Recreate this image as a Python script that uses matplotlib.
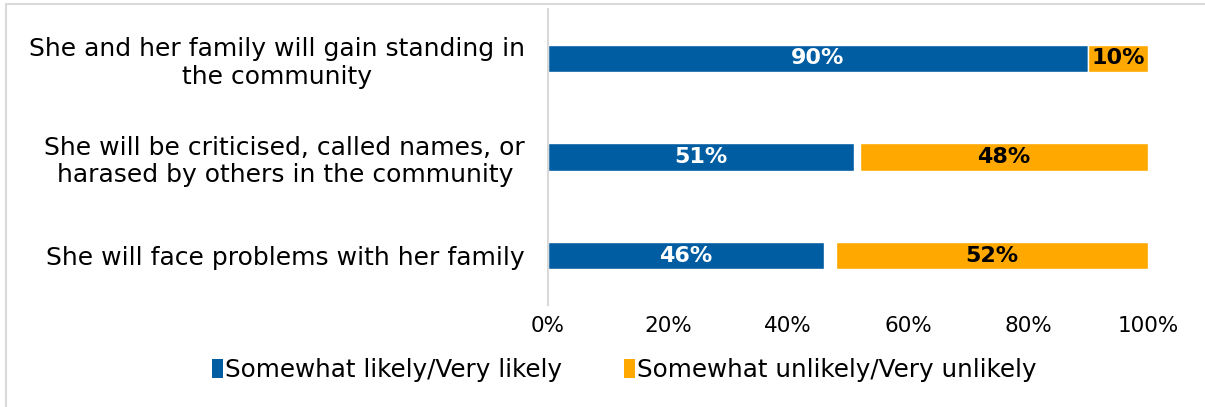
import matplotlib
matplotlib.use("Agg")
import matplotlib.pyplot as plt
from matplotlib.patches import Rectangle, Patch
import numpy as np

categories = [
    "She and her family will gain standing in\nthe community",
    "She will be criticised, called names, or\nharased by others in the community",
    "She will face problems with her family",
]
likely = [90, 51, 46]
unlikely = [10, 48, 52]
series_names = ["Somewhat likely/Very likely", "Somewhat unlikely/Very unlikely"]
xticks = [0, 20, 40, 60, 80, 100]

BLUE = "#005DA2"
ORANGE = "#FFA900"

plt.rcParams["font.family"] = ["DejaVu Sans"]

fig = plt.figure(figsize=(12.05, 4.07), dpi=100)
ax = fig.add_axes([548 / 1205, 1 - 305 / 407, 600 / 1205, 296 / 407])

y = np.arange(len(categories))
likely = np.array(likely)
unlikely = np.array(unlikely)
# remaining share (no answer) sits between the two segments
gap = 100 - likely - unlikely

h = 0.28
ax.barh(y, likely, height=h, color=BLUE, edgecolor="white", linewidth=1)
ax.barh(y, unlikely, left=likely + gap, height=h, color=ORANGE,
        edgecolor="white", linewidth=1)

for i in range(len(categories)):
    ax.text(likely[i] / 2, y[i], f"{likely[i]}%", ha="center", va="center",
            color="white", fontsize=16, fontweight="bold")
    ax.text(likely[i] + gap[i] + unlikely[i] / 2, y[i], f"{unlikely[i]}%",
            ha="center", va="center", color="black", fontsize=16,
            fontweight="bold")

ax.set_xlim(0, 100)
ax.set_ylim(len(categories) - 0.5, -0.5)
ax.set_xticks(xticks)
ax.set_xticklabels([f"{t}%" for t in xticks], fontsize=15.5)
ax.set_yticks(y)
ax.set_yticklabels(categories, fontsize=18, multialignment="center",
                   linespacing=1.2)
ax.tick_params(axis="both", length=0)
ax.tick_params(axis="y", pad=16.5)
ax.tick_params(axis="x", pad=8)
for s in ["top", "right", "bottom"]:
    ax.spines[s].set_visible(False)
ax.spines["left"].set_color("#D9D9D9")
ax.spines["left"].set_linewidth(1.5)

handles = [Patch(facecolor=BLUE, edgecolor="none"),
           Patch(facecolor=ORANGE, edgecolor="none")]
fig.legend(handles, series_names, loc="center", bbox_to_anchor=(0.518, 1 - 370 / 407),
           ncol=2, frameon=False, fontsize=17.7, handlelength=0.45,
           handleheight=0.85, handletextpad=0.1, columnspacing=2.5)

# outer frame of the chart area
fig.patches.append(Rectangle((6 / 1205, -0.1), 1.2, 1 - 4 / 407 + 0.1,
                             transform=fig.transFigure, fill=False,
                             edgecolor="#D9D9D9", linewidth=1.5))

fig.savefig("out.png", dpi=100)
